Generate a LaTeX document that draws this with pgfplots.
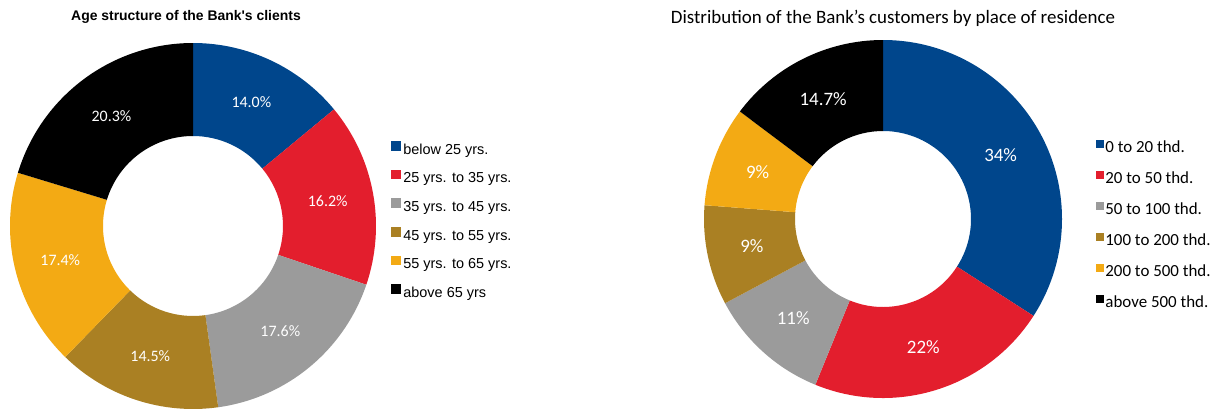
\documentclass[border=0pt]{standalone}
\usepackage{pgfplots}
\pgfplotsset{compat=1.18}
\usepackage{pgfplotstable}
\usepackage{fontspec}
\setmainfont{Carlito}
\newfontfamily\arialfont{Liberation Sans}
\pgfkeys{/pgf/number format/assume math mode=true}

\definecolor{ingblue}{RGB}{0,70,140}
\definecolor{ingred}{RGB}{227,30,45}
\definecolor{inggrey}{RGB}{155,155,155}
\definecolor{ingbrown}{RGB}{170,128,35}
\definecolor{ingyellow}{RGB}{243,170,20}
\definecolor{ingblack}{RGB}{0,0,0}

% shares in %, clockwise from 12 o'clock
\pgfplotstableread[col sep=comma]{
share,name
14.0,below 25 yrs.
16.2,25 yrs. to 35 yrs.
17.6,35 yrs. to 45 yrs.
14.5,45 yrs. to 55 yrs.
17.4,55 yrs. to 65 yrs.
20.3,above 65 yrs
}\agetable

\pgfplotstableread[col sep=comma]{
share,name
34,0 to 20 thd.
22,20 to 50 thd.
11,50 to 100 thd.
9,100 to 200 thd.
9,200 to 500 thd.
14.7,above 500 thd.
}\restable

\def\slicecolors{{"ingblue","ingred","inggrey","ingbrown","ingyellow","ingblack"}}

% start/end angle of every slice, stored globally as \<prefix>s<i>, \<prefix>e<i>
\newcommand\prepdonut[2]{%
  \pgfplotstablegetrowsof{#1}%
  \pgfmathtruncatemacro\nrows{\pgfplotsretval-1}%
  \gdef\tot{0}%
  \foreach \i in {0,...,\nrows}{%
    \pgfplotstablegetelem{\i}{share}\of{#1}%
    \pgfmathsetmacro\t{\tot+\pgfplotsretval}\xdef\tot{\t}}%
  \gdef\acc{90}%
  \foreach \i in {0,...,\nrows}{%
    \pgfplotstablegetelem{\i}{share}\of{#1}%
    \pgfmathsetmacro\b{\acc-360*\pgfplotsretval/\tot}%
    \expandafter\xdef\csname #2s\i\endcsname{\acc}%
    \expandafter\xdef\csname #2e\i\endcsname{\b}%
    \expandafter\xdef\csname #2v\i\endcsname{\pgfplotsretval}%
    \xdef\acc{\b}}%
}
\prepdonut{\agetable}{age}
\prepdonut{\restable}{res}

% #1 prefix, #2 index, #3 colour, #4 cx, #5 cy, #6 R, #7 r
\newcommand\slice[7]{%
  \edef\sa{\csname #1s#2\endcsname}\edef\ea{\csname #1e#2\endcsname}%
  \edef\tmp{\noexpand\fill[#3] (axis cs:{#4+#6*cos(\sa)},{#5+#6*sin(\sa)})
    arc[start angle=\sa, end angle=\ea, radius=#6bp]
    -- (axis cs:{#4+#7*cos(\ea)},{#5+#7*sin(\ea)})
    arc[start angle=\ea, end angle=\sa, radius=#7bp] -- cycle;}%
  \tmp
}

\pgfplotsset{
  donut/.style={
    x=1bp, y=1bp, ymin=-409, ymax=0, hide axis, clip=false,
    legend cell align=left,
  },
}

\begin{document}
\begin{tikzpicture}
\begin{axis}[donut, xmin=0, xmax=609, at={(0,0)}, anchor=south west,
  legend image code/.code={\fill[#1] (0bp,0.8bp) rectangle (8.5bp,9.5bp);},
  legend style={at={(axis cs:391,-141)}, anchor=north west, draw=none, fill=none,
    inner sep=0pt, outer sep=0pt, row sep=12.5bp,
    nodes={inner sep=0pt, text height=10bp, text depth=3bp,
      font=\arialfont\fontsize{14.5}{16}\selectfont},
    /tikz/every odd column/.append style={column sep=3.5bp}},
  ]
  \pgfplotsinvokeforeach{0,...,5}{
    \pgfmathparse{\slicecolors[#1]}\edef\c{\pgfmathresult}
    \expandafter\addlegendimage\expandafter{\c}
    \pgfplotstablegetelem{#1}{name}\of{\agetable}
    \expandafter\addlegendentry\expandafter{\pgfplotsretval}
    \slice{age}{#1}{\c}{193}{-226}{183}{90}
    \pgfmathsetmacro\m{(\csname ages#1\endcsname+\csname agee#1\endcsname)/2}
    \edef\tmp{\noexpand\node[white, font=\noexpand\fontsize{16}{18}\noexpand\selectfont]
      at (axis cs:{193+137*cos(\m)},{-226+137*sin(\m)})
      {\noexpand\pgfmathprintnumber[fixed,precision=1,fixed zerofill]{\csname agev#1\endcsname}\noexpand\%};}
    \tmp
  }
  \node[font=\arialfont\bfseries\fontsize{14}{16}\selectfont] at (axis cs:186,-17)
    {Age structure of the Bank's clients};
\end{axis}
\begin{axis}[donut, xmin=609, xmax=1218, at={(609bp,0)}, anchor=south west,
  legend image code/.code={\fill[#1] (0bp,2bp) rectangle (7bp,9bp);},
  legend style={at={(axis cs:1096,-140)}, anchor=north west, draw=none, fill=none,
    inner sep=0pt, outer sep=0pt, row sep=15.3bp,
    nodes={inner sep=0pt, text height=10bp, text depth=3bp,
      font=\fontsize{17}{19}\selectfont},
    /tikz/every odd column/.append style={column sep=2bp}},
  ]
  \pgfplotsinvokeforeach{0,...,5}{
    \pgfmathparse{\slicecolors[#1]}\edef\c{\pgfmathresult}
    \expandafter\addlegendimage\expandafter{\c}
    \pgfplotstablegetelem{#1}{name}\of{\restable}
    \expandafter\addlegendentry\expandafter{\pgfplotsretval}
    \slice{res}{#1}{\c}{883}{-219}{179}{88}
    \pgfmathsetmacro\m{(\csname ress#1\endcsname+\csname rese#1\endcsname)/2}
    \edef\tmp{\noexpand\node[white, font=\noexpand\fontsize{19}{21}\noexpand\selectfont]
      at (axis cs:{883+134*cos(\m)},{-219+134*sin(\m)})
      {\noexpand\pgfmathprintnumber{\csname resv#1\endcsname}\noexpand\%};}
    \tmp
  }
  \node[font=\fontsize{19}{21}\selectfont] at (axis cs:893,-18)
    {Distribution of the Bank's customers by place of residence};
\end{axis}
\pgfresetboundingbox
\path (0,0) rectangle (1218bp,409bp);
\end{tikzpicture}
\end{document}
